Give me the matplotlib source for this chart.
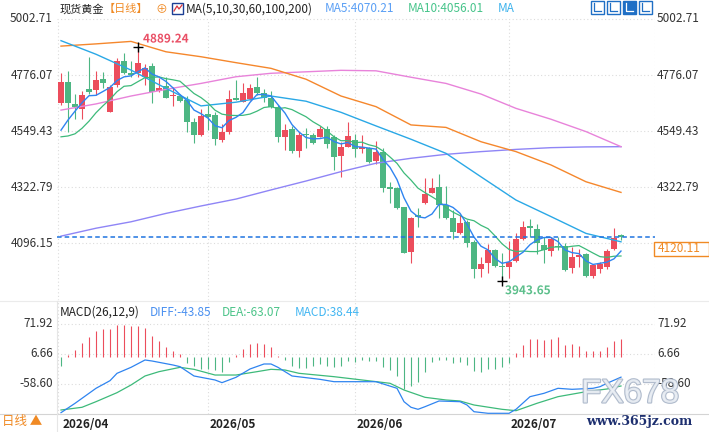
import numpy as np
import matplotlib
matplotlib.use("Agg")
import matplotlib.pyplot as plt
from matplotlib.patches import Rectangle
from matplotlib.lines import Line2D
import matplotlib.patheffects as pe

plt.rcParams['font.family'] = ['Noto Sans CJK SC', 'DejaVu Sans']

# ---- data ----
# spot gold daily candles, 2026/04/01 .. 2026/07
opens = [4664, 4748, 4659, 4640, 4719, 4715, 4760, 4628, 4735, 4833,
         4785, 4783, 4767, 4812, 4711, 4732, 4691, 4691, 4675, 4587,
         4533, 4618, 4614, 4513, 4547, 4682, 4668, 4678, 4729, 4704,
         4684, 4645, 4526, 4558, 4470, 4537, 4533, 4526, 4558, 4526,
         4448, 4486, 4513, 4475, 4479, 4429, 4466, 4322, 4318, 4241,
         4061, 4209, 4257, 4300, 4324, 4250, 4199, 4135, 4182, 4101,
         3991, 4016, 4068, 4003, 4000, 4025, 4112, 4165, 4152, 4088,
         4065, 4084, 4084, 3994, 4041, 4052, 3963, 3992, 3998, 4071,
         4128]
highs = [4783, 4793, 4699, 4713, 4850, 4792, 4789, 4736, 4844, 4866,
         4833, 4889.24, 4821, 4826, 4763, 4769, 4729, 4699, 4691, 4601,
         4637, 4655, 4628, 4578, 4715, 4756, 4745, 4740, 4767, 4718,
         4713, 4655, 4578, 4570, 4547, 4560, 4540, 4570, 4570, 4533,
         4506, 4587, 4537, 4533, 4486, 4510, 4479, 4344, 4324, 4243,
         4203, 4237, 4358, 4358, 4375, 4327, 4230, 4209, 4189, 4108,
         4038, 4091, 4071, 4054, 4105, 4135, 4185, 4192, 4173, 4122,
         4119, 4122, 4095, 4081, 4071, 4054, 4007, 4020, 4071, 4156,
         4133]
lows = [4655, 4547, 4597, 4599, 4699, 4695, 4722, 4625, 4729, 4780,
        4769, 4767, 4736, 4664, 4708, 4682, 4652, 4668, 4547, 4502,
        4530, 4553, 4493, 4506, 4537, 4674, 4667, 4675, 4695, 4668,
        4641, 4506, 4473, 4459, 4445, 4479, 4497, 4524, 4479, 4392,
        4362, 4483, 4443, 4459, 4421, 4416, 4304, 4259, 4233, 4054,
        4016, 4162, 4254, 4297, 4196, 4192, 4111, 4131, 4081, 3953,
        3957, 3976, 4000, 3943.65, 3953, 4020, 4108, 4119, 4052, 4014,
        4044, 4068, 3984, 3976, 4000, 3960, 3953, 3974, 3992, 4068,
        4108]
closes = [4748, 4664, 4647, 4694, 4708, 4756, 4742, 4729, 4833, 4783,
          4776, 4826, 4806, 4708, 4725, 4684, 4696, 4671, 4587, 4533,
          4610, 4607, 4516, 4547, 4679, 4675, 4704, 4722, 4704, 4682,
          4645, 4526, 4553, 4470, 4533, 4533, 4500, 4558, 4497, 4445,
          4486, 4529, 4475, 4486, 4425, 4466, 4318, 4316, 4239, 4057,
          4196, 4203, 4294, 4318, 4250, 4196, 4142, 4176, 4097, 3990,
          4011, 4068, 4003, 3998, 4020, 4111, 4162, 4156, 4095, 4068,
          4111, 4079, 3987, 4041, 4048, 3963, 4008, 4010, 4065, 4115,
          4120.11]
# closes of the 9 sessions before the window (only used by MA5 / MA10)
prior_closes = [4630, 4560, 4470, 4420, 4415, 4459, 4468, 4525, 4564]

# long moving averages, read every 5th session
ma_idx = list(range(0, 81, 5))
ma30 = [4915, 4860, 4796, 4722, 4651, 4666, 4691, 4670, 4625, 4570,
        4516, 4459, 4364, 4270, 4203, 4135, 4101]
ma60 = [4893, 4902, 4912, 4870, 4850, 4826, 4803, 4759, 4691, 4648,
        4574, 4564, 4506, 4466, 4412, 4344, 4301]
ma100 = [4634, 4659, 4691, 4718, 4742, 4769, 4783, 4789, 4795, 4793,
         4767, 4742, 4699, 4641, 4597, 4547, 4486]
ma200 = [4124, 4156, 4182, 4216, 4246, 4274, 4311, 4347, 4385, 4419,
         4439, 4455, 4466, 4475, 4482, 4485, 4486]

# MACD(26,12,9)
hist = [-20.3, 3.6, 14.5, 31.2, 43.5, 56.6, 60.2, 60.2, 69.6, 69.6,
        67.4, 67.4, 63.1, 45.0, 34.1, 21.8, 13.1, 5.8, -13.1, -20.3,
        -25.4, -25.4, -29.0, -32.6, -10.9, 5.1, 16.7, 27.6, 30.5, 29.0,
        21.8, 1.5, -7.3, -20.3, -23.2, -23.2, -20.3, -14.5, -20.3, -21.8,
        -20.3, -8.7, -10.9, -7.3, -9.4, -9.4, -21.8, -27.6, -42.1, -69.6,
        -63.8, -55.1, -33.4, -11.6, -7.3, -7.3, -13.1, -11.6, -16.7, -31.2,
        -33.4, -25.4, -25.4, -21.8, -13.1, 8.7, 26.8, 39.9, 39.9, 36.3,
        39.9, 42.8, 26.8, 28.3, 23.2, 12.3, 12.3, 12.3, 21.0, 34.1,
        38.44]
diff_idx = [0, 2, 5, 7, 8, 10, 12, 13, 16, 17, 19, 22, 23, 25, 27, 29, 30, 31,
            33, 37, 39, 43, 45, 48, 49, 50, 51, 52, 54, 57, 58, 59, 61, 64,
            65, 67, 69, 71, 73, 76, 77, 78, 80]
diff_val = [-121.1, -100.8, -68.1, -51.5, -35.5, -22.5, -6.5, -8.7, -17.4,
            -21.0, -41.3, -50.0, -55.8, -44.2, -26.1, -15.2, -15.2, -22.5,
            -41.3, -48.6, -53.7, -53.7, -53.7, -68.1, -97.2, -109.4, -113.8,
            -108.1, -95.7, -97.2, -104.4, -119.0, -122.5, -122.5, -113.8,
            -86.3, -79.0, -68.1, -70.3, -68.1, -64.6, -57.2, -43.85]
dea_idx = [0, 3, 5, 8, 10, 12, 14, 17, 19, 22, 25, 28, 30, 32, 34, 39, 43, 47,
           49, 52, 55, 57, 59, 63, 65, 68, 71, 75, 78, 80]
dea_val = [-115.3, -109.4, -97.2, -77.6, -60.9, -41.3, -31.9, -22.5, -26.8,
           -39.2, -39.2, -31.9, -26.8, -28.3, -35.5, -42.8, -50.0, -57.2,
           -71.8, -87.7, -93.5, -95.7, -104.4, -113.8, -116.8, -100.7,
           -86.3, -75.5, -69.6, -63.07]

price_ticks = [5002.71, 4776.07, 4549.43, 4322.79, 4096.15]
macd_ticks = [71.92, 6.66, -58.60]
month_labels = ["2026/04", "2026/05", "2026/06", "2026/07"]
month_idx = [0, 21, 42, 64]
last_price = 4120.11

# ---- colours ----
UP = '#ec4d5c'
DOWN = '#4db683'
C_MA5 = '#2f84f0'
C_MA10 = '#3dba7a'
C_MA30 = '#2aa8e6'
C_MA60 = '#f5872c'
C_MA100 = '#e883da'
C_MA200 = '#8f85f6'
GRID = '#dcdcdc'
TXT = '#333333'
ORANGE = '#f08a24'

# ---- layout in screenshot pixels ----
W, H = 709, 432
X0, X1 = 57, 655          # plot left / right edge
STEP, FIRST = 7.0, 61     # candle spacing and x of first candle


def fx(px):
    return px / W


def fy(py):
    return 1 - py / H


fig = plt.figure(figsize=(W / 100, H / 100), dpi=100)
fig.patch.set_facecolor('white')

ax = fig.add_axes([fx(X0), fy(300), (X1 - X0) / W, 300 / H])
mx = fig.add_axes([fx(X0), fy(414), (X1 - X0) / W, 114 / H])
xlim = ((X0 - FIRST) / STEP, (X1 - FIRST) / STEP)
for a in (ax, mx):
    a.set_xlim(*xlim)
    for s in a.spines.values():
        s.set_visible(False)
    a.set_xticks([])
    a.set_yticks([])
    a.set_facecolor('none')

ax.set_ylim(3865.5, 5079.6)
mx.set_ylim(-124, 124)

n = len(closes)
x = np.arange(n)
o = np.array(opens)
c = np.array(closes)
hi = np.array(highs)
lo = np.array(lows)

# grid
dots = (0, (1, 2.2))
for t in price_ticks:
    ax.axhline(t, color=GRID, lw=0.8, ls=dots, zorder=0)
for t in macd_ticks:
    mx.axhline(t, color=GRID, lw=0.8, ls=dots, zorder=0)
top_frac = (300 - 20) / 300
for i in month_idx:
    ax.axvline(i - (0.4 if i == 0 else 0), ymax=top_frac, color=GRID, lw=0.8, ls=dots, zorder=0)
    mx.axvline(i - (0.4 if i == 0 else 0), color=GRID, lw=0.8, ls=dots, zorder=0)
ax.axvline(xlim[1] - 0.02, ymax=top_frac, color=GRID, lw=0.8, ls=dots, zorder=0)
mx.axvline(xlim[1] - 0.02, color=GRID, lw=0.8, ls=dots, zorder=0)

# candles
colors = np.where(c >= o, UP, DOWN)
ax.vlines(x, lo, hi, colors=colors, lw=0.8, zorder=2)
body = np.maximum(np.abs(c - o), 3)
ax.bar(x, body, bottom=np.minimum(o, c), width=0.72, color=colors, lw=0, zorder=3)

# moving averages
all_c = np.array(prior_closes + closes, dtype=float)
ma5 = np.convolve(all_c, np.ones(5) / 5, mode='valid')[-n:]
ma10 = np.convolve(all_c, np.ones(10) / 10, mode='valid')[-n:]
ax.plot(ma_idx, ma200, color=C_MA200, lw=1.0, zorder=4)
ax.plot(ma_idx, ma100, color=C_MA100, lw=1.0, zorder=4)
ax.plot(ma_idx, ma60, color=C_MA60, lw=1.0, zorder=4)
ax.plot(ma_idx, ma30, color=C_MA30, lw=1.0, zorder=4)
ax.plot(x, ma10, color=C_MA10, lw=0.9, zorder=4)
ax.plot(x, ma5, color=C_MA5, lw=1.0, zorder=4)

# last price line
ax.axhline(last_price, color='#1f74e0', lw=1.1, ls=(0, (3, 2)), zorder=5)

# high / low markers
i_hi = int(np.argmax(hi))
i_lo = int(np.argmin(lo))
ax.plot(i_hi, hi[i_hi], marker='+', ms=7, mew=1.0, color='black', zorder=6)
ax.plot(i_lo, lo[i_lo], marker='+', ms=7, mew=1.0, color='black', zorder=6)
halo = [pe.withStroke(linewidth=2, foreground='white')]
ax.annotate(f"{hi[i_hi]:.2f}", xy=(i_hi, hi[i_hi]), xytext=(5, 8), textcoords='offset pixels',
            ha='left', va='center', fontsize=8.5, color='#e95066', fontweight='bold',
            path_effects=halo, zorder=7)
ax.annotate(f"{lo[i_lo]:.2f}", xy=(i_lo, lo[i_lo]), xytext=(3, -10), textcoords='offset pixels',
            ha='left', va='center', fontsize=8.5, color='#5cbf8b', fontweight='bold',
            path_effects=halo, zorder=7, annotation_clip=False)

# price axis labels (left: all, right: all except the one hidden by the last-price box)
for t in price_ticks:
    ax.annotate(f"{t:.2f}", xy=(0, t), xycoords=('axes fraction', 'data'), xytext=(-4, 0),
                textcoords='offset pixels', ha='right', va='center', fontsize=8.5, color=TXT)
for t in price_ticks[:-1]:
    ax.annotate(f"{t:.2f}", xy=(1, t), xycoords=('axes fraction', 'data'), xytext=(2, 0),
                textcoords='offset pixels', ha='left', va='center', fontsize=8.5, color=TXT)
fig.patches.append(Rectangle((fx(654), fy(256)), (W - 654) / W, 14 / H, transform=fig.transFigure,
                             facecolor='white', edgecolor=ORANGE, lw=1.0))
fig.text(fx(658), fy(248.5), f"{last_price:.2f}", ha='left', va='center', fontsize=8.5, color=ORANGE)

# MACD panel
h = np.array(hist)
mx.vlines(x, 0, h, colors=np.where(h >= 0, UP, DOWN), lw=0.8, zorder=2)
mx.plot(dea_idx, dea_val, color=C_MA10, lw=0.9, zorder=3)
mx.plot(diff_idx, diff_val, color=C_MA5, lw=0.9, zorder=3)
for t in macd_ticks:
    mx.annotate(f"{t:.2f}", xy=(0, t), xycoords=('axes fraction', 'data'), xytext=(-4, 0),
                textcoords='offset pixels', ha='right', va='center', fontsize=8.5, color=TXT)
    mx.annotate(f"{t:.2f}", xy=(1, t), xycoords=('axes fraction', 'data'), xytext=(2, 0),
                textcoords='offset pixels', ha='left', va='center', fontsize=8.5, color=TXT)

# date axis
for i, lab in zip(month_idx, month_labels):
    mx.annotate(lab, xy=(i, 0), xycoords=('data', 'axes fraction'), xytext=(2, -10),
                textcoords='offset pixels', ha='left', va='center', fontsize=8.5,
                fontweight='bold', color='#222222', annotation_clip=False)

# frame lines
fig.add_artist(Line2D([0, 1], [fy(301), fy(301)], color='#ebebeb', lw=0.8))
fig.add_artist(Line2D([0, 1], [fy(414), fy(414)], color='#d4d4d4', lw=0.8))
fig.add_artist(Line2D([fx(56.5), fx(56.5)], [0, fy(301)], color='#e6e6e6', lw=0.8))
fig.text(fx(2), fy(422), "日线 ▲", ha='left', va='center', fontsize=9, color=ORANGE)

# legend row of the price panel
fig.text(fx(60), fy(9), "现货黄金", ha='left', va='center', fontsize=8, color='#222222')
fig.text(fx(104), fy(9), "【日线】", ha='left', va='center', fontsize=8, color=ORANGE)
fig.text(fx(155), fy(10), "⊕", ha='left', va='center', fontsize=8.5, color=ORANGE)
fig.patches.append(Rectangle((fx(172), fy(14)), 11 / W, 11 / H, transform=fig.transFigure,
                             facecolor='white', edgecolor='#1c3f94', lw=1.0))
fig.add_artist(Line2D([fx(174), fx(177), fx(179), fx(182)], [fy(11), fy(6), fy(9), fy(5)],
                      color='#d9363e', lw=0.9))
fig.text(fx(186), fy(9), "MA(5,10,30,60,100,200)", ha='left', va='center', fontsize=8.5, color='#222222')
fig.text(fx(325), fy(9), "MA5:4070.21", ha='left', va='center', fontsize=8.5, color='#5a9ff5')
fig.text(fx(408), fy(9), "MA10:4056.01", ha='left', va='center', fontsize=8.5, color='#46c48a')
fig.text(fx(498), fy(9), "MA", ha='left', va='center', fontsize=8.5, color='#3db2ec')

# toolbar icons, top right
for k, px in enumerate([591, 607, 623, 639]):
    filled = (k == 2)
    fig.patches.append(Rectangle((fx(px), fy(14)), 13 / W, 13 / H, transform=fig.transFigure,
                                 facecolor='#1f6fc5' if filled else 'white', edgecolor='#1f6fc5', lw=1.0))
    fg = 'white' if filled else '#1f6fc5'
    fig.add_artist(Line2D([fx(px + 3), fx(px + 3), fx(px + 10)], [fy(3), fy(11), fy(11)], color=fg, lw=0.9))

# MACD legend
fig.text(fx(60), fy(312), "MACD(26,12,9)", ha='left', va='center', fontsize=8.5, color='#222222')
fig.text(fx(150), fy(312), "DIFF:-43.85", ha='left', va='center', fontsize=8.5, color='#4a90f0')
fig.text(fx(222), fy(312), "DEA:-63.07", ha='left', va='center', fontsize=8.5, color='#4cc489')
fig.text(fx(295), fy(312), "MACD:38.44", ha='left', va='center', fontsize=8.5, color='#42b6f2')

# watermark (sits over the -58.60 label, as in the source screenshot)
fig.text(fx(581), fy(394), "FX678", ha='left', va='center', fontsize=24, family='Liberation Sans',
         color='#eef2f7', alpha=0.85,
         path_effects=[pe.withStroke(linewidth=1.6, foreground='#a3b0c4')])
fig.text(fx(586), fy(421), "www.365jz.com", ha='left', va='center', fontsize=9, family='DejaVu Serif',
         fontweight='bold', color='#1d2f6f')

fig.savefig("out.png", dpi=100, facecolor='white')
